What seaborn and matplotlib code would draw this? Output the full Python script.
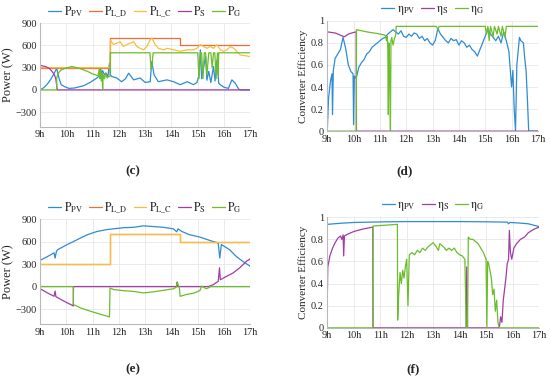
import numpy as np
import pandas as pd
import seaborn as sns
import matplotlib.pyplot as plt

# hour ticks
hours = [9, 10, 11, 12, 13, 14, 15, 16, 17]
hour_labels = ['9h', '10h', '11h', '12h', '13h', '14h', '15h', '16h', '17h']
power_ticks = [-300, 0, 300, 600, 900]
eff_ticks = [0, 0.2, 0.4, 0.6, 0.8, 1]
eff_labels = ['0', '0.2', '0.4', '0.6', '0.8', '1']

# load demand (step), same in (c) and (e)
ld_t = [9.0, 11.67, 11.67, 14.33, 14.33, 17.0]
ld_p = [300, 300, 700, 700, 600, 600]

# ---- panel (c) ----
c_pv_t = [9.0, 9.1, 9.2, 9.3, 9.4, 9.5, 9.57, 9.63, 9.7, 9.8, 9.95, 10.1, 10.3, 10.65, 10.9,
          11.16, 11.25, 11.3, 11.33, 11.38, 11.45, 11.5, 11.58, 11.64, 11.68, 11.73, 11.92, 12.1,
          12.25, 12.37, 12.56, 12.81, 13.0, 13.19, 13.25, 13.34, 13.5, 13.83, 14.08, 14.33,
          14.6, 14.84, 14.97, 15.05, 15.1, 15.15, 15.22, 15.3, 15.35, 15.42, 15.5, 15.6, 15.66,
          15.73, 15.8, 15.86, 16.0, 16.17, 16.3, 16.43, 16.56, 16.62, 17.0]
c_pv = [0, 20, 50, 90, 140, 200, 250, 290, 180, 70, 40, 20, 25, 55, 100,
        160, 190, 300, 220, 260, 200, 230, 180, 360, 200, 180, 160, 110,
        150, 225, 135, 160, 100, 110, 380, 200, 110, 135, 110, 70,
        110, 70, 100, 200, 540, 150, 300, 450, 130, 250, 100, 315, 120,
        400, 90, 70, 35, 20, 135, 90, 10, 0, 0]

c_lc_t = [9.0, 11.66, 11.67, 11.79, 11.92, 12.05, 12.17, 12.3, 12.43, 12.56, 12.68, 12.81, 12.94,
          13.06, 13.19, 13.25, 13.38, 13.5, 13.7, 13.83, 14.08, 14.33, 14.59, 14.84, 14.97, 15.1,
          15.22, 15.35, 15.48, 15.6, 15.73, 15.86, 15.98, 16.11, 16.24, 16.37, 16.49, 16.62, 17.0]
c_lc = [300, 300, 675, 610, 630, 650, 585, 610, 630, 650, 585, 560, 540,
        585, 675, 700, 610, 560, 540, 560, 540, 520, 540, 540, 560, 610,
        585, 560, 585, 560, 610, 540, 520, 540, 585, 560, 520, 470, 450]

c_s_t = [9.0, 9.2, 9.35, 9.45, 9.55, 9.6, 9.63, 9.65, 17.0]
c_s = [330, 315, 290, 250, 200, 140, 60, 0, 0]

c_g_t = [9.0, 9.63, 9.63, 9.7, 9.8, 9.95, 10.2, 10.5, 10.8, 11.0, 11.2, 11.25, 11.28, 11.3,
         11.33, 11.36, 11.38, 11.4, 11.45, 11.5, 11.55, 11.6, 11.66, 11.67, 13.18, 13.22, 13.26,
         13.3, 15.0, 15.05, 15.1, 15.15, 15.2, 15.25, 15.3, 15.35, 15.42, 15.5, 15.55, 15.6,
         15.65, 15.7, 15.75, 15.78, 15.8, 17.0]
c_g = [0, 0, 160, 230, 270, 290, 315, 290, 250, 215, 190, 280, 150, 260,
       120, 230, 0, 200, 150, 220, 160, 180, 180, 500, 500, 280, 320, 500, 500, 150, 500, 500,
       150, 500, 500, 200, 500, 500, 300, 500, 500, 150, 500, 200, 500, 500]

# ---- panel (d) ----
d_pv_t = [9.0, 9.05, 9.12, 9.18, 9.2, 9.23, 9.3, 9.4, 9.5, 9.6, 9.7, 9.8, 9.9, 9.98, 10.0,
          10.03, 10.1, 10.2, 10.3, 10.4, 10.5, 10.6, 10.7, 10.8, 10.9, 11.0, 11.1, 11.2, 11.3,
          11.4, 11.5, 11.6, 11.7, 11.8, 11.9, 12.0, 12.1, 12.2, 12.3, 12.4, 12.5, 12.6, 12.7,
          12.8, 12.9, 13.0, 13.1, 13.2, 13.3, 13.4, 13.5, 13.6, 13.7, 13.8, 13.9, 14.0, 14.1,
          14.2, 14.3, 14.4, 14.5, 14.6, 14.7, 14.8, 14.9, 15.0, 15.1, 15.2, 15.3, 15.4, 15.5,
          15.6, 15.7, 15.8, 15.9, 16.0, 16.05, 16.1, 16.15, 16.2, 16.3, 16.35, 16.45, 16.5,
          16.55, 16.6, 16.65, 17.0]
d_pv = [0.0, 0.3, 0.45, 0.52, 0.15, 0.55, 0.66, 0.70, 0.74, 0.85, 0.75, 0.6, 0.54, 0.52, 0.06,
        0.50, 0.48, 0.58, 0.62, 0.65, 0.70, 0.72, 0.76, 0.78, 0.80, 0.82, 0.84, 0.85, 0.88,
        0.90, 0.92, 0.90, 0.88, 0.91, 0.86, 0.85, 0.88, 0.86, 0.89, 0.88, 0.84, 0.86, 0.82,
        0.84, 0.80, 0.78, 0.82, 0.93, 0.88, 0.85, 0.82, 0.80, 0.84, 0.82, 0.83, 0.78, 0.82,
        0.80, 0.76, 0.78, 0.74, 0.72, 0.68, 0.74, 0.80, 0.86, 0.93, 0.88, 0.85, 0.82, 0.86,
        0.80, 0.90, 0.82, 0.72, 0.40, 0.55, 0.20, 0.0, 0.60, 0.85, 0.82, 0.80, 0.66,
        0.55, 0.30, 0.0, 0.0]

d_s_t = [9.0, 9.3, 9.5, 9.65, 9.8, 10.0, 10.1, 10.11, 17.0]
d_s = [0.90, 0.89, 0.87, 0.855, 0.88, 0.895, 0.90, 0.0, 0.0]

d_g_t = [9.0, 10.1, 10.11, 10.5, 10.9, 11.2, 11.25, 11.28, 11.3, 11.32, 11.34, 11.37, 11.4,
         11.42, 11.45, 11.5, 11.55, 11.6, 11.62, 13.15, 13.2, 13.25, 15.0, 15.05, 15.1, 15.15,
         15.2, 15.3, 15.35, 15.45, 15.5, 15.6, 15.65, 15.75, 15.8, 17.0]
d_g = [0.0, 0.0, 0.92, 0.90, 0.885, 0.87, 0.82, 0.86, 0.75, 0.15, 0.80, 0.55, 0.0,
       0.82, 0.85, 0.78, 0.84, 0.87, 0.95, 0.95, 0.92, 0.95, 0.95, 0.88, 0.95, 0.82,
       0.95, 0.86, 0.95, 0.88, 0.95, 0.86, 0.95, 0.85, 0.95, 0.95]

# ---- panel (e) ----
e_pv_t = [9.0, 9.28, 9.53, 9.57, 9.62, 9.66, 10.03, 10.41, 10.79, 11.17, 11.55, 11.8, 12.18,
          12.56, 12.94, 13.32, 13.69, 14.07, 14.2, 14.25, 14.39, 14.7, 15.08, 15.46, 15.78,
          15.84, 15.9, 16.22, 16.47, 16.72, 17.0]
e_pv = [350, 400, 450, 380, 470, 490, 560, 625, 690, 735, 760, 770, 785,
        790, 810, 800, 790, 770, 730, 770, 735, 690, 660, 615, 580,
        380, 560, 490, 400, 335, 270]

e_s_t = [9.0, 9.28, 9.53, 9.57, 9.6, 9.91, 10.22, 10.26, 10.27, 14.2, 14.22, 14.24, 15.4,
         15.59, 15.78, 15.83, 15.86, 16.09, 16.34, 16.6, 16.85, 17.0]
e_s = [-30, -85, -130, -60, -135, -195, -250, -260, 0, 0, 60, 0, 0,
       25, 70, 250, 90, 135, 180, 250, 335, 370]

e_g_t = [9.0, 10.26, 10.27, 10.54, 10.92, 11.3, 11.55, 11.64, 11.66, 11.8, 12.18, 12.56,
         12.94, 13.32, 13.69, 14.07, 14.18, 14.22, 14.3, 14.33, 14.58, 14.83, 15.08, 15.15,
         15.33, 15.5, 17.0]
e_g = [0, 0, -240, -285, -330, -370, -395, -405, -20, -40, -55, -65,
       -85, -70, -50, -30, -10, 60, -20, -130, -105, -90, -55, 5,
       -30, 0, 0]

# ---- panel (f) ----
f_pv_t = [9.0, 9.5, 10.0, 11.0, 12.0, 13.0, 14.0, 15.0, 15.8, 15.85, 15.9, 16.2, 16.6, 17.0]
f_pv = [0.935, 0.945, 0.952, 0.957, 0.96, 0.96, 0.96, 0.958, 0.955, 0.94, 0.952, 0.948, 0.94, 0.915]

f_s_t = [9.0, 9.02, 9.1, 9.2, 9.3, 9.4, 9.5, 9.55, 9.6, 9.62, 9.65, 9.8, 10.0, 10.3, 10.6,
         10.72, 10.73, 14.25, 14.27, 14.3, 15.5, 15.55, 15.6, 15.65, 15.7, 15.75, 15.8, 15.85,
         15.88, 15.92, 15.97, 16.05, 16.15, 16.3, 16.45, 16.6, 16.8, 17.0]
f_s = [0.25, 0.55, 0.65, 0.72, 0.77, 0.81, 0.83, 0.80, 0.84, 0.65, 0.83, 0.85, 0.87, 0.89, 0.905,
       0.91, 0.0, 0.0, 0.55, 0.0, 0.0, 0.1, 0.05, 0.25, 0.35, 0.45, 0.58, 0.62,
       0.88, 0.68, 0.62, 0.72, 0.76, 0.80, 0.82, 0.86, 0.89, 0.91]

f_g_t = [9.0, 10.72, 10.73, 11.65, 11.66, 11.7, 11.75, 11.8, 11.85, 11.9, 11.95, 12.0, 12.05,
         12.1, 12.2, 12.3, 12.4, 12.5, 12.6, 12.7, 12.8, 12.9, 13.0, 13.1, 13.2, 13.25, 13.4,
         13.5, 13.6, 13.7, 13.8, 13.9, 14.0, 14.1, 14.2, 14.25, 14.3, 14.33, 14.4, 14.5, 14.6,
         14.7, 14.8, 14.9, 15.0, 15.03, 15.06, 15.1, 15.2, 15.25, 15.3, 15.35, 15.4, 15.45,
         15.5, 17.0]
f_g = [0.0, 0.0, 0.92, 0.935, 0.07, 0.3, 0.5, 0.4, 0.52, 0.45, 0.55, 0.62, 0.2,
       0.66, 0.68, 0.66, 0.70, 0.68, 0.72, 0.70, 0.73, 0.75, 0.77, 0.74, 0.70, 0.76, 0.73,
       0.70, 0.72, 0.70, 0.72, 0.68, 0.66, 0.65, 0.62, 0.0, 0.0, 0.82, 0.80, 0.80, 0.78,
       0.76, 0.72, 0.68, 0.62, 0.0, 0.6, 0.58, 0.45, 0.30, 0.35, 0.15, 0.25, 0.05,
       0.0, 0.0]

# colours (matlab-like)
c_blue = '#2e8bd6'
c_orange = '#f26b3a'
c_yellow = '#f7be3c'
c_purple = '#a23ca8'
c_green = '#6bbd2b'

sns.set_style('white')
plt.rcParams['font.family'] = ['Liberation Serif']
plt.rcParams['mathtext.fontset'] = 'stix'

fig = plt.figure(figsize=(5.5, 3.79), dpi=100)
ax_c = fig.add_axes([0.073, 0.665, 0.382, 0.274])
ax_d = fig.add_axes([0.595, 0.654, 0.383, 0.291])
ax_e = fig.add_axes([0.073, 0.145, 0.382, 0.277])
ax_f = fig.add_axes([0.595, 0.135, 0.385, 0.292])


def line(ax, t, v, color, label):
    sns.lineplot(x=t, y=v, ax=ax, color=color, lw=0.9, estimator=None, sort=False, label=label)


def style(ax, power):
    ax.set_xlim(9, 17)
    ax.set_xticks(hours)
    ax.set_xticklabels(hour_labels)
    if power:
        ax.set_ylim(-500, 900)
        ax.set_yticks(power_ticks)
        ax.set_ylabel('Power (W)', fontsize=9, labelpad=1)
    else:
        ax.set_ylim(0, 1)
        ax.set_yticks(eff_ticks)
        ax.set_yticklabels(eff_labels)
        ax.set_ylabel('Converter Efficiency', fontsize=8, labelpad=2)
    ax.grid(True, color='#e8e8e8', lw=0.6)
    ax.tick_params(labelsize=7.5, length=1.5, pad=1, color='#999999')
    for s in ['top', 'right']:
        ax.spines[s].set_visible(False)
    for s in ['left', 'bottom']:
        ax.spines[s].set_color('#b8b8b8')
        ax.spines[s].set_linewidth(0.8)
    ax.legend(loc='lower center', bbox_to_anchor=(0.5, 0.98), ncol=5, frameon=False,
              fontsize=8.5, handlelength=1.1, handletextpad=0.2, columnspacing=0.5,
              borderaxespad=0.1)


power_labels = [r'$\mathrm{P_{PV}}$', r'$\mathrm{P_{L\_D}}$', r'$\mathrm{P_{L\_C}}$',
                r'$\mathrm{P_{S}}$', r'$\mathrm{P_{G}}$']
eff_names = [r'$\mathrm{\eta_{PV}}$', r'$\mathrm{\eta_{S}}$', r'$\mathrm{\eta_{G}}$']

line(ax_c, c_pv_t, c_pv, c_blue, power_labels[0])
line(ax_c, ld_t, ld_p, c_orange, power_labels[1])
line(ax_c, c_lc_t, c_lc, c_yellow, power_labels[2])
line(ax_c, c_s_t, c_s, c_purple, power_labels[3])
line(ax_c, c_g_t, c_g, c_green, power_labels[4])
style(ax_c, True)

line(ax_d, d_pv_t, d_pv, c_blue, eff_names[0])
line(ax_d, d_s_t, d_s, c_purple, eff_names[1])
line(ax_d, d_g_t, d_g, c_green, eff_names[2])
style(ax_d, False)

line(ax_e, e_pv_t, e_pv, c_blue, power_labels[0])
line(ax_e, ld_t, ld_p, c_orange, power_labels[1])
line(ax_e, ld_t, ld_p, c_yellow, power_labels[2])
line(ax_e, e_s_t, e_s, c_purple, power_labels[3])
line(ax_e, e_g_t, e_g, c_green, power_labels[4])
style(ax_e, True)

line(ax_f, f_pv_t, f_pv, c_blue, eff_names[0])
line(ax_f, f_s_t, f_s, c_purple, eff_names[1])
line(ax_f, f_g_t, f_g, c_green, eff_names[2])
style(ax_f, False)

fig.text(133 / 550, 1 - 171 / 379, '(c)', ha='center', va='center', fontsize=9.5, fontweight='bold')
fig.text(405 / 550, 1 - 171 / 379, '(d)', ha='center', va='center', fontsize=9.5, fontweight='bold')
fig.text(133 / 550, 1 - 369 / 379, '(e)', ha='center', va='center', fontsize=9.5, fontweight='bold')
fig.text(413 / 550, 1 - 369 / 379, '(f)', ha='center', va='center', fontsize=9.5, fontweight='bold')

fig.savefig('out.png', dpi=100)
